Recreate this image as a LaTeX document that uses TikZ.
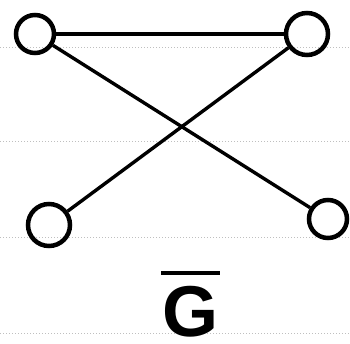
\documentclass[tikz,border=0pt]{standalone}
\usepackage{fontspec}
\setmainfont{Liberation Sans}
\begin{document}
\begin{tikzpicture}[x=1pt,y=-1pt,
  vertex/.style={circle,draw=black,line width=4.5pt,minimum size=38pt,inner sep=0pt},
  edge/.style={draw=black,line width=3.4pt},
  ruled/.style={draw=black!25,dotted,line width=1pt}]
\useasboundingbox (0,0) rectangle (350,344);
\fill[white] (0,0) rectangle (350,344);
% notebook ruling
\coordinate (r1a) at (0,48);  \coordinate (r1b) at (350,48);
\coordinate (r2a) at (0,142); \coordinate (r2b) at (350,142);
\coordinate (r3a) at (0,238); \coordinate (r3b) at (350,238);
\coordinate (r4a) at (0,333); \coordinate (r4b) at (350,333);
\draw[ruled] (r1a) -- (r1b);
\draw[ruled] (r2a) -- (r2b);
\draw[ruled] (r3a) -- (r3b);
\draw[ruled] (r4a) -- (r4b);
% vertices
\node[vertex] (tl) at (35,34) {};
\node[vertex,minimum size=42pt] (tr) at (307,34) {};
\node[vertex,minimum size=42pt] (bl) at (49,225) {};
\node[vertex] (br) at (328,219) {};
% edges
\draw[edge] (tl) -- (tr);
\draw[edge] (tl) -- (br);
\draw[edge] (bl) -- (tr);
% label
\node[inner sep=0pt,anchor=base,font=\fontsize{72}{76}\selectfont\bfseries] (g) at (190,336) {G};
\coordinate (o1) at (161,273);
\coordinate (o2) at (220,273);
\draw[black,line width=4.5pt] (o1) -- (o2);
\end{tikzpicture}
\end{document}
